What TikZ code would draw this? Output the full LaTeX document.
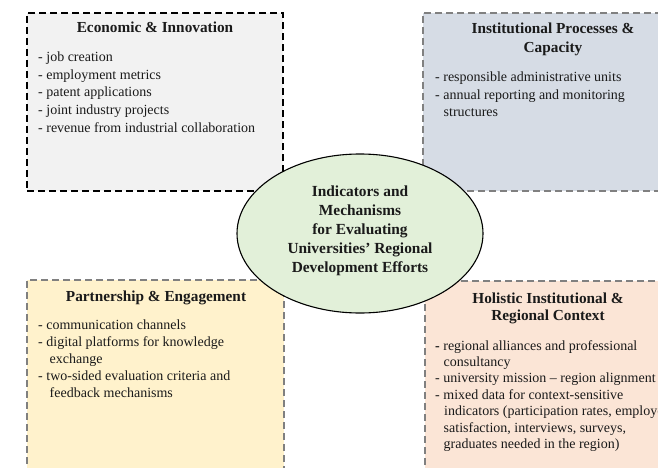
\documentclass[tikz,border=0pt]{standalone}
\usepackage{fontspec}
\setmainfont{Liberation Serif}
\usetikzlibrary{shapes.geometric}
\definecolor{econgray}{HTML}{F2F2F2}
\definecolor{instblue}{HTML}{D6DCE5}
\definecolor{partyellow}{HTML}{FFF2CC}
\definecolor{holpink}{HTML}{FBE5D6}
\definecolor{hubgreen}{HTML}{E2F0D9}
\definecolor{dashgray}{HTML}{808080}
\definecolor{txt}{HTML}{1A1A1A}
\begin{document}
\begin{tikzpicture}[x=1pt,y=-1pt,
  panel/.style={draw=dashgray, dash pattern=on 7pt off 4pt, line width=1.2pt,
    rectangle, anchor=north west, inner sep=0pt, outer sep=0pt},
  ttl/.style={font=\fontsize{15.3}{19}\selectfont\bfseries, text=txt, anchor=base, inner sep=0pt},
  item/.style={font=\fontsize{14}{17}\selectfont, text=txt, anchor=base west, inner sep=0pt},
  hub/.style={ellipse, draw=black, line width=1.1pt, fill=hubgreen,
    minimum width=246pt, minimum height=159pt, inner sep=0pt},
  hubtext/.style={font=\fontsize{15.4}{19}\selectfont\bfseries, text=txt, align=center, inner sep=0pt}]
\useasboundingbox (0,0) rectangle (658,468);
\clip (0,0) rectangle (658,468);

% panels
\node[panel, draw=black, line width=1.5pt, fill=econgray, minimum width=256pt, minimum height=178pt] (econ) at (27,13) {};
\node[panel, fill=instblue, minimum width=256pt, minimum height=178pt] (inst) at (423,13) {};
\node[panel, fill=partyellow, minimum width=257pt, minimum height=200pt] (part) at (27,280) {};
\node[panel, fill=holpink, minimum width=246pt, minimum height=200pt] (hol) at (425,281) {};

% Economic & Innovation
\node[ttl] (econ-t) at (155,33) {Economic \& Innovation};
\foreach \t [count=\i from 0] in {- job creation, - employment metrics, - patent applications, - joint industry projects, - revenue from industrial collaboration}
  \node[item] (econ-\i) at (38,{62+17.5*\i}) {\t};

% Institutional Processes & Capacity
\node[ttl] (inst-t1) at (553,34) {Institutional Processes \&};
\node[ttl] (inst-t2) at (553,53) {Capacity};
\foreach \t [count=\i from 0] in {- responsible administrative units, - annual reporting and monitoring, \hspace{8.5pt}structures}
  \node[item] (inst-\i) at (435,{82+17.3*\i}) {\t};

% Partnership & Engagement
\node[ttl] (part-t) at (156,301) {Partnership \& Engagement};
\foreach \t [count=\i from 0] in {- communication channels, - digital platforms for knowledge, \hspace{11.5pt}exchange, - two-sided evaluation criteria and, \hspace{11.5pt}feedback mechanisms}
  \node[item] (part-\i) at (38,{329+17*\i}) {\t};

% Holistic Institutional & Regional Context
\node[ttl] (hol-t1) at (548,303) {Holistic Institutional \&};
\node[ttl] (hol-t2) at (548,320) {Regional Context};
\foreach \t [count=\i from 0] in {\textbf{-} regional alliances and professional, \hspace{8.5pt}consultancy, - university mission – region alignment, - mixed data for context-sensitive, {\hspace{9pt}indicators (participation rates, employer}, {\hspace{8.5pt}satisfaction, interviews, surveys,}, \hspace{8.5pt}graduates needed in the region)}
  \node[item] (hol-\i) at (435,{350+16.4*\i}) {\t};

% central ellipse
\node[hub] (hub) at (360,233.5) {};
\node[hubtext] (hub-t) at (360,230.5) {Indicators and\\Mechanisms\\for Evaluating\\Universities’ Regional\\Development Efforts};
\end{tikzpicture}
\end{document}
